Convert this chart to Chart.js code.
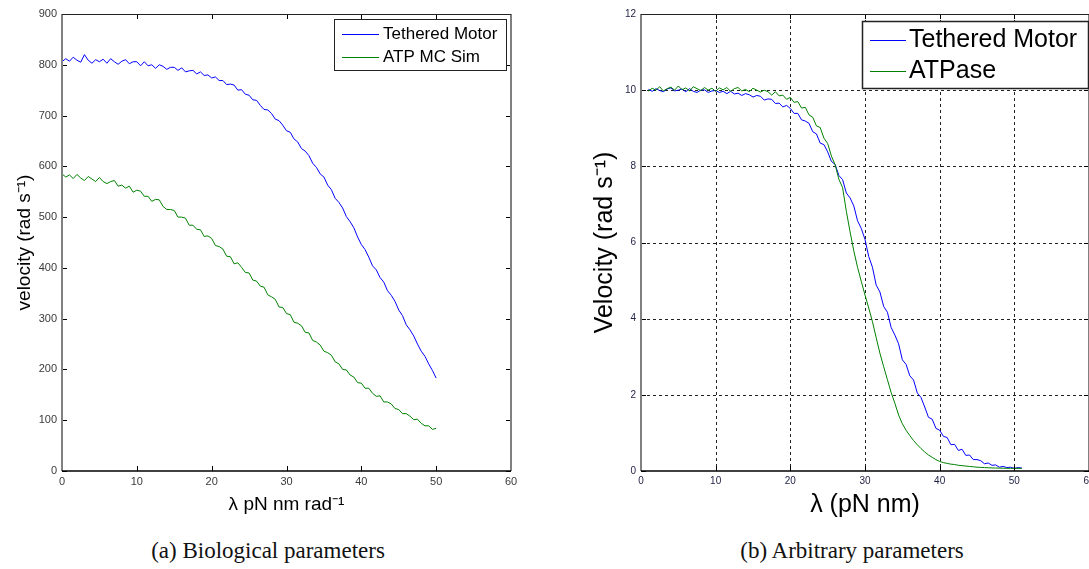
<!DOCTYPE html>
<html>
<head>
<meta charset="utf-8">
<script src="https://cdn.jsdelivr.net/npm/chart.js@4.4.1/dist/chart.umd.min.js"></script>
<style>
  body { margin: 0; background: #fff; width: 1089px; height: 569px; overflow: hidden; position: relative; }
  canvas { position: absolute; top: 0; }
  #chartA { left: 0; }
  #chartB { left: 560px; }
  .caption { position: absolute; top: 538px; font-family: "Liberation Serif", serif; font-size: 23px; color: #111; white-space: nowrap; transform: translateX(-50%); }
</style>
</head>
<body>
<canvas id="chartA" width="540" height="525"></canvas>
<canvas id="chartB" width="560" height="525"></canvas>
<div class="caption" style="left: 268px;">(a) Biological parameters</div>
<div class="caption" style="left: 852px;">(b) Arbitrary parameters</div>
<script>
// (a) biological parameters, lambda in pN nm rad^-1
const lambdaA = [
  0, 0.5, 1, 1.5, 2, 2.5, 3, 3.5, 4, 4.5,
  5, 5.5, 6, 6.5, 7, 7.5, 8, 8.5, 9, 9.5,
  10, 10.5, 11, 11.5, 12, 12.5, 13, 13.5, 14, 14.5,
  15, 15.5, 16, 16.5, 17, 17.5, 18, 18.5, 19, 19.5,
  20, 20.5, 21, 21.5, 22, 22.5, 23, 23.5, 24, 24.5,
  25, 25.5, 26, 26.5, 27, 27.5, 28, 28.5, 29, 29.5,
  30, 30.5, 31, 31.5, 32, 32.5, 33, 33.5, 34, 34.5,
  35, 35.5, 36, 36.5, 37, 37.5, 38, 38.5, 39, 39.5,
  40, 40.5, 41, 41.5, 42, 42.5, 43, 43.5, 44, 44.5,
  45, 45.5, 46, 46.5, 47, 47.5, 48, 48.5, 49, 49.5,
  50
];
const tetheredA = [
  806, 812, 807, 815, 809, 805, 820, 809, 803, 810,
  806, 811, 803, 812, 806, 801, 807, 810, 802, 806,
  806, 798, 806, 798, 800, 793, 800, 797, 791, 795,
  795, 789, 794, 786, 788, 789, 782, 786, 779, 780,
  774, 776, 769, 769, 761, 762, 760, 750, 751, 742,
  740, 731, 730, 720, 712, 711, 704, 693, 690, 681,
  670, 667, 654, 648, 635, 630, 621, 606, 598, 585,
  579, 563, 554, 537, 529, 518, 501, 491, 479, 461,
  446, 436, 421, 404, 396, 381, 372, 355, 346, 334,
  317, 306, 288, 278, 266, 250, 236, 226, 211, 198,
  183
];
const atpSimA = [
  585, 579, 583, 576, 584, 577, 572, 580, 575, 570,
  578, 570, 566, 570, 572, 561, 563, 557, 561, 549,
  553, 551, 541, 541, 531, 535, 534, 521, 515, 515,
  513, 500, 500, 498, 484, 484, 476, 475, 462, 463,
  458, 444, 442, 437, 423, 422, 408, 410, 401, 391,
  390, 376, 374, 364, 362, 347, 343, 338, 323, 322,
  310, 308, 293, 291, 286, 273, 272, 257, 254, 248,
  236, 233, 228, 215, 211, 200, 199, 189, 185, 174,
  173, 163, 163, 153, 147, 148, 136, 136, 132, 123,
  121, 113, 113, 108, 101, 102, 94, 89, 89, 82,
  84
];

// (b) arbitrary parameters, lambda in pN nm
const lambdaB = [
  1, 1.5, 2, 2.5, 3, 3.5, 4, 4.5, 5, 5.5,
  6, 6.5, 7, 7.5, 8, 8.5, 9, 9.5, 10, 10.5,
  11, 11.5, 12, 12.5, 13, 13.5, 14, 14.5, 15, 15.5,
  16, 16.5, 17, 17.5, 18, 18.5, 19, 19.5, 20, 20.5,
  21, 21.5, 22, 22.5, 23, 23.5, 24, 24.5, 25, 25.5,
  26, 26.5, 27, 27.5, 28, 28.5, 29, 29.5, 30, 30.5,
  31, 31.5, 32, 32.5, 33, 33.5, 34, 34.5, 35, 35.5,
  36, 36.5, 37, 37.5, 38, 38.5, 39, 39.5, 40, 40.5,
  41, 41.5, 42, 42.5, 43, 43.5, 44, 44.5, 45, 45.5,
  46, 46.5, 47, 47.5, 48, 48.5, 49, 49.5, 50, 50.5,
  51
];
const tetheredB = [
  10.02, 9.97, 10.04, 9.99, 9.96, 10.03, 10.06, 9.98, 10.00, 10.03,
  9.96, 10.04, 9.97, 9.94, 10.00, 10.01, 9.94, 9.98, 9.99, 9.94,
  9.97, 9.91, 9.97, 9.90, 9.92, 9.86, 9.91, 9.88, 9.82, 9.86,
  9.84, 9.74, 9.77, 9.76, 9.65, 9.66, 9.56, 9.60, 9.52, 9.39,
  9.39, 9.22, 9.19, 9.13, 8.91, 8.85, 8.61, 8.57, 8.38, 8.13,
  8.05, 7.76, 7.65, 7.30, 7.17, 6.96, 6.57, 6.37, 6.08, 5.63,
  5.35, 4.88, 4.70, 4.32, 4.17, 3.77, 3.57, 3.34, 2.92, 2.80,
  2.50, 2.39, 2.05, 1.93, 1.68, 1.41, 1.36, 1.12, 1.07, 0.91,
  0.88, 0.69, 0.70, 0.54, 0.57, 0.41, 0.42, 0.30, 0.30, 0.27,
  0.19, 0.21, 0.15, 0.16, 0.10, 0.12, 0.09, 0.10, 0.07, 0.09,
  0.08
];
const atpaseB = [
  9.98, 10.05, 10.00, 10.09, 9.98, 10.04, 10.08, 10.00, 10.11, 10.01,
  10.06, 9.98, 10.09, 10.04, 9.99, 10.07, 10.00, 10.05, 9.97, 10.06,
  10.01, 10.07, 9.97, 10.04, 10.07, 9.98, 10.02, 9.96, 10.05, 10.00,
  9.95, 10.00, 9.96, 9.87, 9.96, 9.85, 9.87, 9.76, 9.81, 9.68,
  9.70, 9.53, 9.55, 9.35, 9.29, 9.06, 9.02, 8.74, 8.60, 8.27,
  8.04, 7.66, 7.44, 6.82, 6.28, 5.78, 5.35, 4.98, 4.62, 4.28,
  3.92, 3.50, 3.09, 2.74, 2.40, 2.06, 1.78, 1.47, 1.24, 1.07,
  0.93, 0.80, 0.69, 0.59, 0.50, 0.42, 0.36, 0.30, 0.25, 0.22,
  0.20, 0.18, 0.17, 0.15, 0.14, 0.13, 0.12, 0.11, 0.10, 0.095,
  0.09, 0.085, 0.08, 0.078, 0.075, 0.073, 0.07, 0.07, 0.07, 0.07,
  0.07
];

const BLUE = '#0000ff';
const GREEN = '#008000';
const SANS = '"Liberation Sans", Arial, sans-serif';

const toPoints = (xs, ys) => xs.map((x, i) => ({ x, y: ys[i] }));

// matlab-like box: dashed grid, frame, inward ticks and an inset legend
const matlabAxes = {
  id: 'matlabAxes',
  beforeDatasetsDraw(chart, args, opts) {
    if (!opts.grid) return;
    const { ctx, chartArea: a, scales: { x, y } } = chart;
    ctx.save();
    ctx.strokeStyle = '#222';
    ctx.lineWidth = 1;
    ctx.setLineDash([3, 3]);
    ctx.beginPath();
    x.ticks.forEach(t => {
      const px = Math.round(x.getPixelForValue(t.value)) + 0.5;
      if (px <= a.left + 1 || px >= a.right - 1) return;
      ctx.moveTo(px, a.top); ctx.lineTo(px, a.bottom);
    });
    y.ticks.forEach(t => {
      const py = Math.round(y.getPixelForValue(t.value)) + 0.5;
      if (py <= a.top + 1 || py >= a.bottom - 1) return;
      ctx.moveTo(a.left, py); ctx.lineTo(a.right, py);
    });
    ctx.stroke();
    ctx.restore();
  },
  afterDraw(chart, args, opts) {
    const { ctx, chartArea: a, scales: { x, y } } = chart;
    ctx.save();
    const len = 5;
    ctx.strokeStyle = '#000';
    ctx.lineWidth = 1;
    ctx.beginPath();
    x.ticks.forEach(t => {
      const px = Math.round(x.getPixelForValue(t.value)) + 0.5;
      ctx.moveTo(px, a.bottom); ctx.lineTo(px, a.bottom - len);
      ctx.moveTo(px, a.top); ctx.lineTo(px, a.top + len);
    });
    y.ticks.forEach(t => {
      const py = Math.round(y.getPixelForValue(t.value)) + 0.5;
      ctx.moveTo(a.left, py); ctx.lineTo(a.left + len, py);
      ctx.moveTo(a.right, py); ctx.lineTo(a.right - len, py);
    });
    ctx.stroke();

    // frame: grey sides, dark top and bottom
    ctx.strokeStyle = '#808080';
    ctx.lineWidth = 2;
    ctx.beginPath();
    ctx.moveTo(a.left, a.top); ctx.lineTo(a.left, a.bottom);
    ctx.moveTo(a.right, a.top); ctx.lineTo(a.right, a.bottom);
    ctx.stroke();
    ctx.strokeStyle = '#222';
    ctx.lineWidth = 1;
    ctx.beginPath();
    ctx.moveTo(a.left, a.top + 0.5); ctx.lineTo(a.right, a.top + 0.5);
    ctx.stroke();
    ctx.strokeStyle = '#000';
    ctx.lineWidth = 1.5;
    ctx.beginPath();
    ctx.moveTo(a.left, a.bottom); ctx.lineTo(a.right, a.bottom);
    ctx.stroke();

    // legend
    const lg = opts.legend;
    if (lg) {
      ctx.fillStyle = '#fff';
      ctx.fillRect(lg.x, lg.y, lg.w, lg.h);
      ctx.strokeStyle = '#222';
      ctx.lineWidth = lg.border;
      ctx.strokeRect(lg.x + 0.5, lg.y + 0.5, lg.w, lg.h);
      ctx.font = lg.fontSize + 'px ' + SANS;
      ctx.textBaseline = 'middle';
      ctx.textAlign = 'left';
      chart.data.datasets.forEach((ds, i) => {
        const ry = lg.y + lg.rows[i];
        ctx.strokeStyle = ds.borderColor;
        ctx.lineWidth = 1;
        ctx.beginPath();
        ctx.moveTo(lg.x + lg.sample[0], ry + 0.5);
        ctx.lineTo(lg.x + lg.sample[1], ry + 0.5);
        ctx.stroke();
        ctx.fillStyle = '#000';
        ctx.fillText(ds.label, lg.x + lg.textX, ry);
      });
    }
    ctx.restore();
  }
};

function makeChart(id, cfg) {
  return new Chart(document.getElementById(id), {
    type: 'line',
    data: {
      datasets: [
        { label: 'Tethered Motor', data: toPoints(cfg.lambda, cfg.tethered), borderColor: BLUE, borderWidth: 1, pointRadius: 0, tension: 0, order: 1 },
        { label: cfg.secondLabel, data: toPoints(cfg.lambda, cfg.second), borderColor: GREEN, borderWidth: 1, pointRadius: 0, tension: 0, order: 0 }
      ]
    },
    options: {
      responsive: false,
      animation: false,
      devicePixelRatio: 1,
      layout: { padding: { top: 14, right: cfg.padRight, left: 0, bottom: 0 } },
      plugins: {
        legend: { display: false },
        tooltip: { enabled: false },
        matlabAxes: { grid: cfg.grid, legend: cfg.legend }
      },
      scales: {
        x: {
          type: 'linear', min: 0, max: 60,
          ticks: { stepSize: 10, padding: 4, maxRotation: 0, color: cfg.tickColor, font: { family: SANS, size: cfg.tickSize } },
          grid: { display: false, drawTicks: false },
          border: { display: false },
          title: { display: true, text: cfg.xTitle, color: '#000', font: { family: SANS, size: cfg.titleSize }, padding: { top: 0, bottom: cfg.xTitlePad } },
          afterFit: s => { s.height = 54; }
        },
        y: {
          type: 'linear', min: 0, max: cfg.yMax,
          ticks: { stepSize: cfg.yStep, padding: 5, color: cfg.tickColor, font: { family: SANS, size: cfg.tickSize } },
          grid: { display: false, drawTicks: false },
          border: { display: false },
          title: { display: true, text: cfg.yTitle, color: '#000', font: { family: SANS, size: cfg.titleSize }, padding: { top: cfg.yTitlePad, bottom: 0 } },
          afterFit: s => { s.width = cfg.yWidth; }
        }
      }
    },
    plugins: [matlabAxes]
  });
}

makeChart('chartA', {
  lambda: lambdaA, tethered: tetheredA, second: atpSimA, secondLabel: 'ATP MC Sim',
  yMax: 900, yStep: 100, yWidth: 62, padRight: 29,
  tickSize: 11, tickColor: '#3a3a3a', titleSize: 19,
  xTitle: 'λ pN nm rad⁻¹', yTitle: 'velocity (rad s⁻¹)', xTitlePad: 9, yTitlePad: 13,
  grid: false,
  legend: { x: 334, y: 19, w: 172, h: 51, border: 1, fontSize: 17, rows: [15, 38], sample: [8, 45], textX: 49 }
});

// wider canvas runs past the page edge so the right frame sits at the border
makeChart('chartB', {
  lambda: lambdaB, tethered: tetheredB, second: atpaseB, secondLabel: 'ATPase',
  yMax: 12, yStep: 2, yWidth: 81, padRight: 31,
  tickSize: 10, tickColor: '#1f1f44', titleSize: 25,
  xTitle: 'λ (pN nm)', yTitle: 'Velocity (rad s⁻¹)', xTitlePad: 5, yTitlePad: 30,
  grid: true,
  legend: { x: 302, y: 21, w: 226, h: 67, border: 1.5, fontSize: 25, rows: [19, 50], sample: [8, 44], textX: 47 }
});
</script>
</body>
</html>
